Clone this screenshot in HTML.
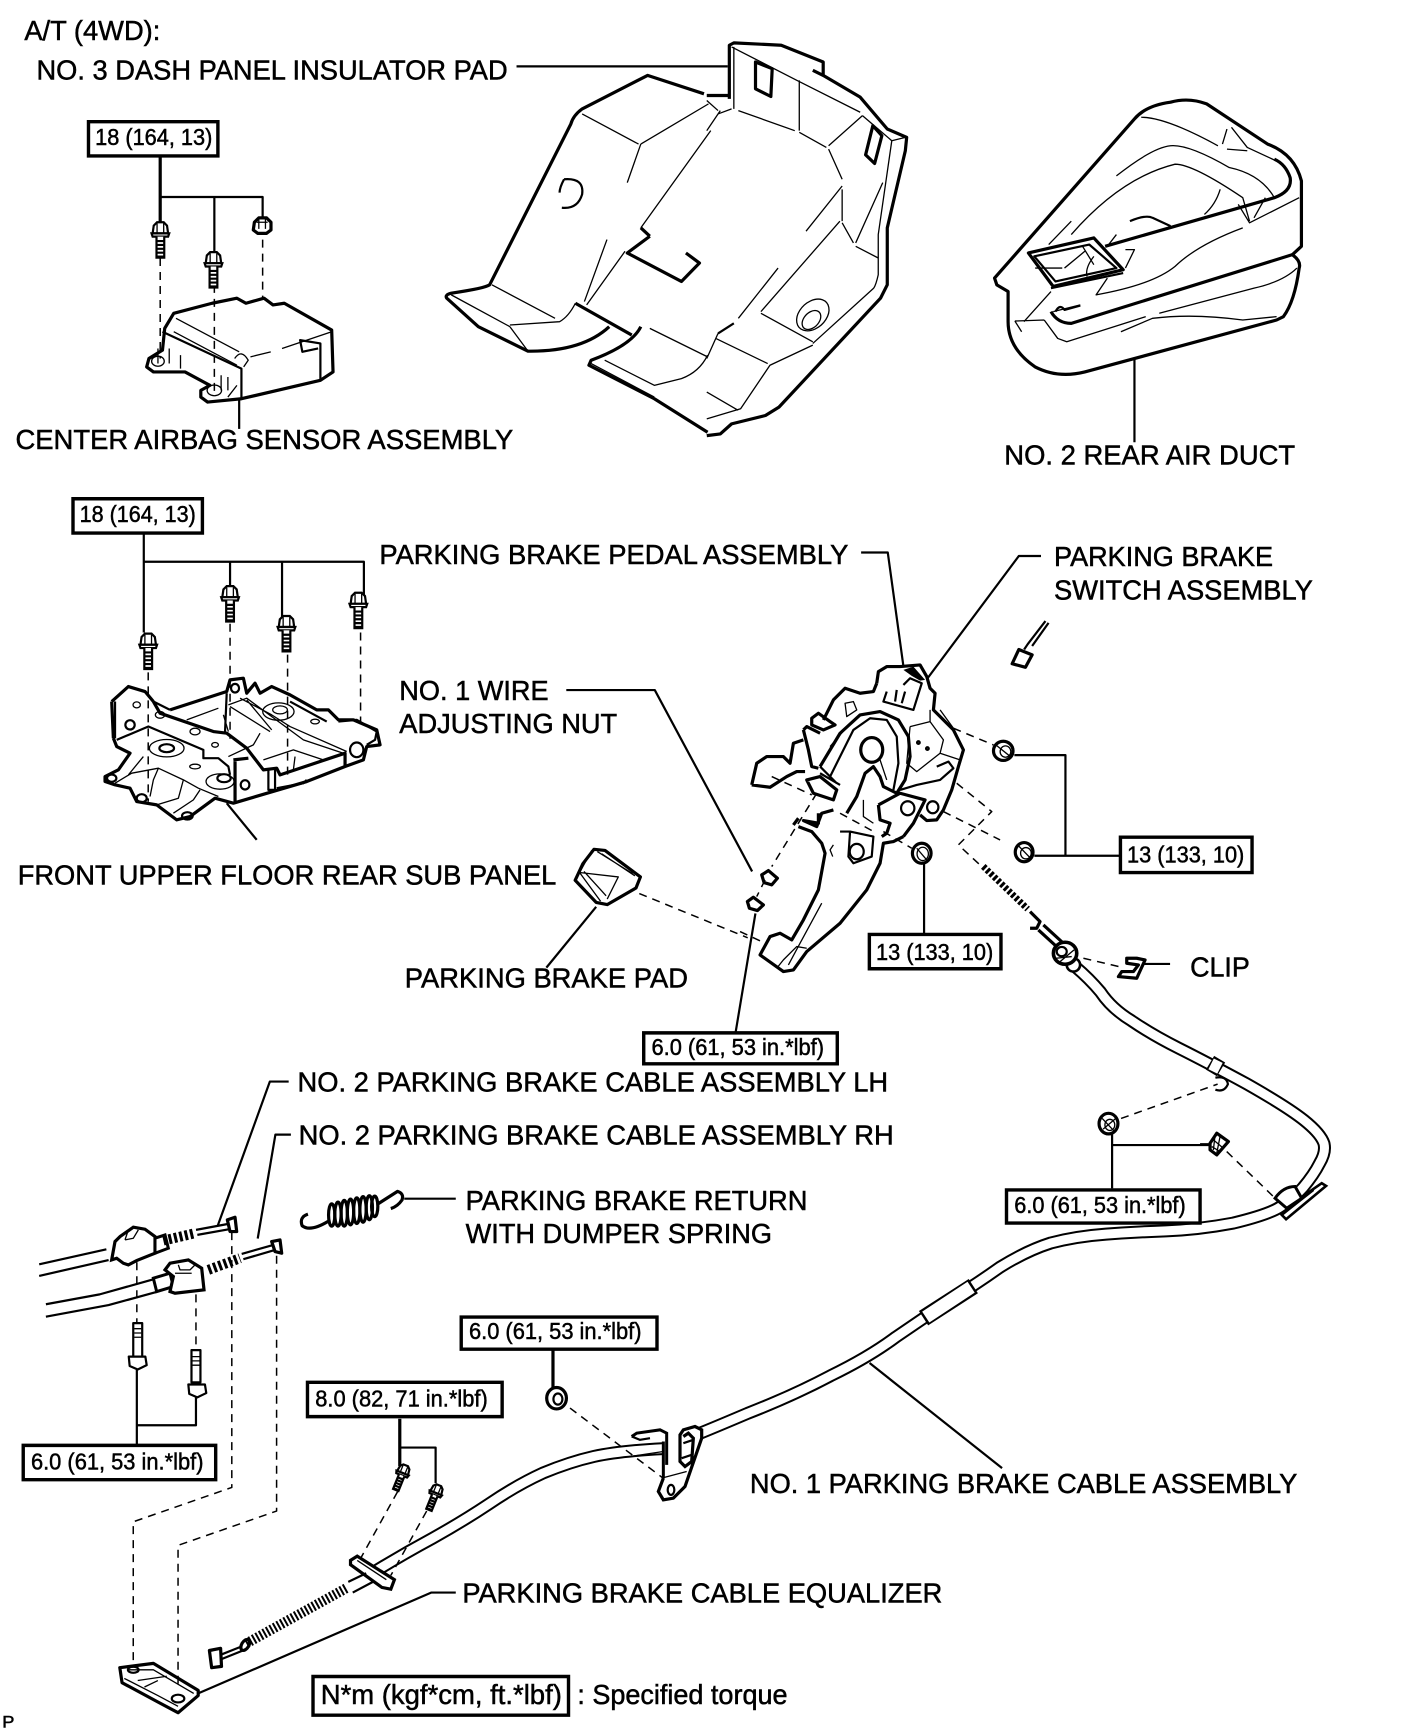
<!DOCTYPE html>
<html><head><meta charset="utf-8">
<style>
html,body{margin:0;padding:0;background:#fff}
svg{display:block}
*{vector-effect:non-scaling-stroke}
.k,.m,.t,.d,.h{fill:none;stroke:#000;stroke-linejoin:round;stroke-linecap:butt}
.k{stroke-width:3.2}.m{stroke-width:2.2}.t{stroke-width:1.3}
.d{stroke-width:1.5;stroke-dasharray:8 6}
text{font-family:"Liberation Sans",sans-serif;fill:#000;stroke:#000;stroke-width:.5}
.l{font-size:25px}.b{font-size:21px}
rect.r{fill:#fff;stroke:#000;stroke-width:3.4}
.w{fill:#fff}
</style></head><body>
<svg xmlns="http://www.w3.org/2000/svg" width="1408" height="1734" viewBox="0 0 1273 1568" preserveAspectRatio="none">
<rect width="1273" height="1568" fill="#fff"/>
<defs>
<g id="bolt"><path d="M-6,-7L-3,-10L3,-10L6,-7L7,0L-7,0Z" fill="#fff" stroke="#000" stroke-width="2.2"/><path d="M-8,0H8L7,3H-7Z" fill="#fff" stroke="#000" stroke-width="2.2"/><path class="t" d="M-3,-9V0M3,-9V0"/><path d="M-3.5,3V22H3.5V3" fill="#fff" stroke="#000" stroke-width="2.2"/><path class="m" d="M-3,7H3M-3,10.500H3M-3,14H3M-3,17.500H3M-3,21H3"/></g>
</defs>

<!-- leaders -->
<path class="m" d="M467,60H658"/>
<path class="m" d="M512,624H592L680,788"/>
<path class="m" d="M683,826L665,934"/>
<path class="m" d="M261,978H244L197,1108M263,1026H249L233,1120"/>

<!-- Z1 pad left + airbag sensor -->
<g transform="scale(.408,.303)">
<path class="k" d="M1560,280L1435,225L1290,325Q1270,345 1265,370L1085,850Q1075,860 1000,875Q985,880 990,890L1060,975L1170,1048Q1290,1050 1350,975"/>
<path class="k" d="M1275,905L1400,1000M1420,975Q1400,1030 1310,1075L1305,1090L1450,1190L1568,1290M1440,705L1390,755L1510,840L1550,785L1520,755M1420,680L1440,705"/>
<path class="t" d="M1290,340L1415,430M1420,430L1570,310M1420,430L1390,545M1575,390L1420,680M1345,715L1295,900M1385,750L1300,910M1090,850L1230,950M1130,970L1240,960Q1260,945 1275,905M1130,975L1170,1048M1000,880L1130,975M1440,980L1568,1065M1340,1075L1450,1150L1510,1130Q1550,1110 1568,1060M1310,1085L1450,1185"/>
<path class="m" d="M1250,535Q1295,530 1290,580Q1280,625 1245,620M1250,535Q1240,560 1240,575"/>
<!-- airbag sensor -->
<path class="k" d="M385,935L470,905L525,890L545,905L585,890L605,910L630,905L735,985L738,1110L710,1135L535,1190L460,1200L445,1185L445,1165L465,1150L410,1110L340,1110L325,1095L330,1070L360,1045L365,980Z"/>
<path class="m" d="M360,990L535,1100L535,1190M710,1135L710,1025L665,1015L670,1050L705,1040"/>
<path class="t" d="M390,950L530,1050M385,990L525,1090M555,1065L600,1050M625,1040L735,990M520,1070Q535,1040 550,1075L540,1095M350,1040V1085M375,1040V1085M400,1060V1100M490,1120V1165M505,1125V1165M525,1150L505,1185"/>
<ellipse class="t" cx="350" cy="1078" rx="14" ry="15"/><ellipse class="t" cx="475" cy="1165" rx="16" ry="16"/>
<path class="d" d="M355,770V1070M475,850V1170M582,715V890"/>
<path class="k" d="M355,468V670"/>
<path class="m" d="M355,588H582V650M475,588V750"/>
<path class="m" d="M530,1190V1280"/>
</g>
<use href="#bolt" x="145" y="211"/><use href="#bolt" x="193" y="238"/>
<g transform="translate(237,204)"><path class="k" d="M-7,-3L-3,-7L4,-7L8,-3L8,4L4,7H-4L-8,4Z"/><path class="t" d="M-5,-3H5M-3,-6L-3,3M3,-6L3,3"/></g>

<!-- Z2 pad right -->
<g transform="translate(639,0) scale(.408,.303)">
<path class="k" d="M50,295V135L60,128L165,135L258,185V225L235,210M258,225L340,290L400,385L443,410L440,450L400,680L400,850L385,890L160,1215L130,1240L55,1265L30,1295L0,1300M0,285H50"/>
<path class="k" d="M108,185L145,205L142,288L108,265ZM368,375L388,405L372,488L352,462Z"/>
<path class="t" d="M55,140L200,240L340,335M60,140V325M70,330L195,390M205,240V390M205,395L265,440M345,345L270,435M270,445L300,535M300,555L220,690M300,565V660M295,660L120,930M300,665L325,725M390,545L330,725M410,420L380,700V820Q375,850 370,860M345,345L410,420L440,410M330,735L380,770M158,800L70,950M370,860L235,1025M120,935L235,1020M235,1030L140,1090L75,1220L0,1250M20,1010L135,1085M0,1070L25,995M0,1170L70,1225M30,330L0,390M25,340L55,325M0,300L25,330"/>
<path class="m" d="M25,995L60,965"/>
<ellipse class="t" cx="235" cy="940" rx="32" ry="50" transform="rotate(25 235 940)"/>
<ellipse class="t" cx="232" cy="955" rx="18" ry="30" transform="rotate(25 232 955)"/>
</g>
<!-- duct -->
<g transform="translate(634,0) scale(.408,.303)">
<path class="k" d="M650,830L960,355Q985,315 1040,305Q1080,290 1120,310L1255,430Q1315,460 1330,540L1330,735L1310,760Q1330,780 1325,800Q1315,900 1290,945L1275,955L850,1110Q790,1130 740,1095Q680,1040 680,960L680,870L655,850Z"/>
<path class="k" d="M1310,760L820,965Q790,965 775,930M895,735L1270,590Q1310,570 1305,530Q1295,490 1270,475"/>
<path class="k" d="M725,755L870,710L935,805L780,855Z"/>
<path class="m" d="M738,765L860,730L920,800L785,840ZM950,660Q985,640 1000,650L1040,675M775,860L935,815"/>
<path class="t" d="M975,350Q1030,350 1145,435M1165,385L1155,430M1175,380L1210,440L1290,490M1165,445L1210,450M920,525Q1000,440 1040,435Q1080,430 1170,500Q1240,520 1270,590M820,700Q930,530 1050,490Q1090,490 1200,590L1215,660M1150,565Q1140,610 1115,640M1190,610L1215,665L1325,590M1250,590L1225,650M1200,680Q1100,730 1050,795Q1000,850 875,880L900,830M940,745L960,745L940,800M770,730L820,660M900,735L920,700M775,870L715,960M695,958L760,955M710,990L695,958M780,930L840,910M760,955L790,1010L810,1020L985,945M1320,800Q1290,840 1225,860L1015,935M930,990L1000,950Q1090,935 1200,955L1275,945M845,735L870,790M805,800L850,750M740,800L800,800M870,765Q850,800 855,825"/>
<path class="m" d="M785,930Q795,905 805,925L840,912M960,1070V1320"/>
</g>

<!-- Z8 subpanel -->
<g transform="translate(81.4,596.7) scale(.3014)">
<path class="k" d="M65,125L115,80L165,95L190,125M70,235L65,125M240,150L410,95L420,60L460,55L470,100L495,70L510,100L545,80L600,105L680,150L715,150L745,180L790,180L860,210L870,255L830,260L820,300L765,320M70,235L80,260L120,280L85,330L45,350L45,365L75,375L120,385L140,425L200,435L260,480L300,470L375,415L430,430L650,365L765,320"/>
<path class="k" d="M190,125L210,160L370,215L410,220L470,265L520,330L560,325L570,345L765,280V320M435,305V425M430,300L475,295"/>
<path class="m" d="M410,100L405,215M75,125V235M240,150L190,125M555,330V390L535,390V330M560,385L640,370L650,360M80,240L175,200L340,270V295L385,295L415,320L420,345M600,125L710,185M745,185L800,180L860,215L855,240L830,255"/>
<path class="t" d="M415,135L470,115L640,240L760,280M470,120L545,210M420,140L540,215M450,115L545,165L600,200L770,275M510,220L490,255L415,290M520,300L610,270L700,300M615,290L610,330M75,370L125,340L205,325L280,360L325,385L385,410M205,325L190,360L180,410M280,360L265,415L200,435M330,390L310,420L250,460M115,345L160,290M290,180L385,145M400,165L415,215"/>
<ellipse class="t" cx="230" cy="265" rx="52" ry="26"/><ellipse class="m" cx="230" cy="265" rx="22" ry="12"/>
<ellipse class="t" cx="390" cy="365" rx="42" ry="23"/><ellipse class="m" cx="402" cy="355" rx="20" ry="12"/>
<ellipse class="t" cx="565" cy="155" rx="47" ry="26"/><ellipse class="t" cx="570" cy="150" rx="22" ry="12"/>
<ellipse class="m" cx="800" cy="270" rx="20" ry="22"/><ellipse class="m" cx="465" cy="375" rx="13" ry="14"/>
<ellipse class="t" cx="315" cy="215" rx="15" ry="10"/><ellipse class="t" cx="210" cy="165" rx="14" ry="10"/><ellipse class="t" cx="140" cy="135" rx="11" ry="9"/><ellipse class="m" cx="120" cy="195" rx="14" ry="14"/><ellipse class="t" cx="375" cy="255" rx="10" ry="7"/><ellipse class="t" cx="315" cy="320" rx="16" ry="7"/><ellipse class="t" cx="675" cy="185" rx="13" ry="7"/><ellipse class="m" cx="435" cy="85" rx="12" ry="13"/><ellipse class="m" cx="65" cy="355" rx="14" ry="11"/><ellipse class="m" cx="155" cy="415" rx="15" ry="12"/><ellipse class="m" cx="292" cy="468" rx="16" ry="11"/>
<path class="m" d="M410,430L500,540"/>
</g>
<path class="d" d="M134,608V725M208,564V668M260,592V703M326,572V660"/>
<path class="m" d="M130,482V572M130,508H329V538M208,508V530M255,508V560"/>
<use href="#bolt" x="134" y="583"/><use href="#bolt" x="208" y="540"/><use href="#bolt" x="259" y="567"/><use href="#bolt" x="324" y="546"/>

<!-- brake pad -->
<path class="k" d="M537,768L547,769L579,793L575,803L549,818L539,816L520,796L527,781Z"/>
<path class="t" d="M535,769L524,789L543,815M524,789L559,793L549,813M540,770L572,790M544,772L574,792M528,788L548,810"/>
<path class="m" d="M539,820L494,875"/>
<path class="d" d="M578,808L676,848"/>

<!-- pedal Z7 -->
<g transform="translate(669.1,587.7) scale(.3014)">
<path class="k" d="M410,100L415,65L440,50L480,50L540,45L560,80L570,115L585,130L580,180L640,240L670,300L655,350L635,420L610,480L590,510L560,512L540,495M490,560L460,575L430,580L420,640L380,720L300,820L200,905L160,960L130,965L60,915L90,860L120,850L155,870L190,810L235,720L255,610L245,580L215,545L175,530"/>
<path class="k" d="M410,100L400,125L360,130L315,115L280,150L250,210M215,205L235,190L270,215L285,225L250,240L215,225ZM190,240L200,230L240,250M190,240L205,300L215,350L235,355M35,405L50,340L80,320L130,320L150,340L160,280L190,270M35,405L90,412L140,380L170,365L195,365M200,390L220,430L280,450L290,420L240,380Z"/>
<path class="k" d="M240,350L300,250L360,195L420,185L475,210L505,260L510,320L495,390L470,430L430,410L420,380L400,350L375,370L350,440L320,490M415,465L480,430L555,450L540,480L520,520L490,560M415,465L420,510L450,520L440,550L425,560M235,490L235,520L190,512L230,530L245,490L280,480M175,505L160,525"/>
<path class="m" d="M270,380L340,240L390,205L440,210L470,260L475,340L460,420M490,105L510,85L545,100L520,180L430,155L440,125M470,120L465,155M495,125L485,160M590,350L625,335L640,355L600,390L530,405L480,420M300,545L330,545L400,560L395,620L340,640L325,620L330,545M240,350L290,400M240,370L300,405"/>
<path d="M490,60L520,50L555,90L540,92L515,78Z" fill="#000" stroke="none"/>
<path class="t" d="M510,230L570,215L610,270L600,310L530,365L500,340L510,230M570,215V180M600,310L660,330M245,760L180,880L145,945M200,895L170,890L130,930L110,955M370,450L370,500L400,520M315,160L340,155L350,180L320,200ZM270,290L330,220M420,330L440,390M600,180L640,235M280,585L270,600L278,620"/>
<ellipse class="k" cx="395" cy="300" rx="33" ry="37"/>
<ellipse class="m" cx="503" cy="475" rx="20" ry="21"/><ellipse class="m" cx="578" cy="472" rx="17" ry="18"/><ellipse class="m" cx="350" cy="605" rx="21" ry="23"/>
<circle cx="535" cy="278" r="4" class="m"/><circle cx="562" cy="296" r="4" class="m"/>
<path class="d" d="M640,235L760,285M610,485L780,570M430,545L515,595M650,400L755,485L655,585L725,650M230,430L95,650M75,690L50,740M95,380L215,435M300,490L410,550M0,845L75,880"/>
<ellipse class="k" cx="545" cy="610" rx="28" ry="30"/><ellipse class="t" cx="548" cy="612" rx="17" ry="20"/><path class="t" d="M530,595L560,630"/>
<path class="k" d="M65,675L85,662L112,685L95,705L72,698ZM22,755L40,742L70,765L52,782L28,775Z"/>
<path class="m" d="M552,640V850"/>
</g>

<!-- Z4 right side items -->
<g transform="translate(640,470) scale(.4016,.3215)">
<path class="m" d="M345,92H405L440,410M750,102H700L495,445"/>
<path class="m" d="M760,285L720,350L712,365M767,290L730,355"/>
<path class="k" d="M700,365L730,380L715,415L685,405Z"/>
<ellipse class="k" cx="665" cy="650" rx="22" ry="27"/><ellipse class="t" cx="670" cy="652" rx="12" ry="16"/><path class="t" d="M650,635L680,665"/>
<ellipse class="k" cx="712" cy="935" rx="20" ry="27"/><ellipse class="t" cx="716" cy="938" rx="12" ry="16"/><path class="t" d="M700,918L725,950"/>
<path class="m" d="M690,662H805V945M735,945H928"/>
<path fill="none" stroke="#000" stroke-width="6.500" stroke-dasharray="3 2" d="M620,975L720,1095"/>
</g>

<!-- main cable -->
<path fill="none" stroke="#000" stroke-width="13" d="M972,874Q985,885 995,897Q1005,912 1023,923Q1042,936 1066,948Q1090,960 1127,980Q1164,1001 1179,1013Q1194,1025 1197,1034Q1199,1042 1193,1052Q1188,1062 1178,1074Q1168,1085 1158,1091Q1148,1098 1115,1106Q1083,1112 1054,1113Q1026,1114 1000,1116Q973,1118 950,1124Q928,1131 904,1146Q880,1163 857,1177Q835,1192 810,1209Q786,1227 751,1244Q717,1262 676,1278Q636,1295 618,1302"/>
<path fill="none" stroke="#fff" stroke-width="9" d="M972,874Q985,885 995,897Q1005,912 1023,923Q1042,936 1066,948Q1090,960 1127,980Q1164,1001 1179,1013Q1194,1025 1197,1034Q1199,1042 1193,1052Q1188,1062 1178,1074Q1168,1085 1158,1091Q1148,1098 1115,1106Q1083,1112 1054,1113Q1026,1114 1000,1116Q973,1118 950,1124Q928,1131 904,1146Q880,1163 857,1177Q835,1192 810,1209Q786,1227 751,1244Q717,1262 676,1278Q636,1295 618,1302"/>
<path fill="none" stroke="#000" stroke-width="17" d="M835,1192L880,1163"/><path fill="none" stroke="#fff" stroke-width="13" d="M837,1191L878,1164"/>
<path fill="none" stroke="#000" stroke-width="16" d="M1094,961L1104,967"/><path fill="none" stroke="#fff" stroke-width="12" d="M1095,962L1103,966"/>
<path fill="none" stroke="#000" stroke-width="13" d="M599,1310Q560,1312 537,1317Q515,1322 491,1332Q467,1343 442,1360Q418,1376 391,1391Q365,1405 339,1421"/>
<path fill="none" stroke="#fff" stroke-width="9" d="M599,1310Q560,1312 537,1317Q515,1322 491,1332Q467,1343 442,1360Q418,1376 391,1391Q365,1405 339,1421"/>

<!-- grommet + clip -->
<g transform="translate(931.3,777.6) scale(.3014)">
<path class="k" d="M0,155L30,185L20,205L0,205M40,195L100,250M25,210L85,265"/>
<ellipse cx="130" cy="315" rx="20" ry="20" fill="#fff" stroke="#000" stroke-width="2.6"/>
<ellipse cx="105" cy="280" rx="35" ry="33" fill="#fff" stroke="#000" stroke-width="3.600"/>
<ellipse class="m" cx="95" cy="275" rx="15" ry="14"/><path class="t" d="M78,295L125,290M90,305L132,270"/>
<path class="d" d="M160,295L275,322"/>
<path class="k" d="M290,295L320,295L345,300L320,355L265,350L275,335L310,335L325,315L290,310Z"/>
<path class="m" d="M340,312H420"/>
</g>

<!-- right end of cable -->
<g transform="translate(1085,994.6) scale(.3014)">
<path fill="#fff" stroke="#000" stroke-width="3" d="M225,295Q250,260 285,260L305,295L260,325Z"/>
<path fill="#fff" stroke="#000" stroke-width="2.600" d="M300,295L365,250L378,258L258,358L245,345L270,325L340,270Z"/>
<path class="d" d="M80,155L220,290"/>
<path class="k" d="M30,130L50,100L85,125L50,165L30,150Z"/>
<path class="t" d="M40,120L70,145M35,140L60,155M45,105L40,150M60,110L50,160"/>
<path class="m" d="M0,133H30"/>
</g>

<!-- bracket -->
<g transform="translate(569.6,1279.4) scale(.3014)">
<path d="M100,190L85,230L100,255L130,250L165,215L215,70V45L195,35L160,45L150,60V140L165,155L185,140L190,70L175,55L160,65" fill="#fff" stroke="#000" stroke-width="3.200"/>
<path d="M5,65L20,55L90,45L110,55V150M100,80V190" fill="none" stroke="#000" stroke-width="3"/>
<path class="m" d="M5,65L30,75L60,70"/>
<path class="t" d="M95,190L170,170M0,125L100,110"/>
<path class="m" d="M160,85L190,75M155,130L185,120"/>
<ellipse class="m" cx="123" cy="225" rx="10" ry="15"/>
</g>

<!-- Z5 -->
<g transform="translate(1,959) scale(.405,.388)">
<path class="m" d="M85,475L235,440M85,502L240,465M100,568L220,545L340,510M100,597L240,570L345,540"/>
<path class="d" d="M303,470V610M435,545V670M515,400V995L295,1075V1410M615,455V1050L395,1130V1465"/>
<path class="m" d="M295,612H315V690H295ZM285,690L322,690L325,710L305,720L287,712ZM425,675H445V750H425ZM418,755L455,755L458,775L438,785L420,777ZM303,720V900M303,850H435V785"/>
<path class="t" d="M297,625H313M297,635H313M297,645H313M427,690H443M427,700H443M427,710H443"/>
<!-- spring -->
<path class="k" d="M730,375Q690,400 672,385Q665,365 685,358M840,335L885,305Q900,310 895,325Q885,340 870,345"/>
<ellipse class="k" cx="738" cy="360" rx="7" ry="26"/><ellipse class="k" cx="752" cy="358" rx="7" ry="28"/><ellipse class="k" cx="766" cy="356" rx="7" ry="30"/><ellipse class="k" cx="780" cy="353" rx="7" ry="30"/><ellipse class="k" cx="794" cy="350" rx="7" ry="30"/><ellipse class="k" cx="808" cy="347" rx="7" ry="30"/><ellipse class="k" cx="822" cy="343" rx="7" ry="28"/><ellipse class="k" cx="834" cy="340" rx="7" ry="24"/>
<path class="m" d="M900,322H1015"/>
<!-- 8.0 -->
<path class="k" d="M890,835V945"/>
<path class="m" d="M890,902H970V985"/>
<path class="d" d="M885,1005L800,1165M950,1050L870,1200"/>
<path class="k" d="M1232,675V765"/>
<ellipse class="k" cx="1240" cy="787" rx="22" ry="25"/><ellipse class="m" cx="1243" cy="789" rx="10" ry="13"/>
<path class="d" d="M1270,810L1480,975"/>
<!-- equalizer -->
<path stroke="#000" stroke-width="3.200" fill="#fff" d="M780,1165L795,1155L878,1210L870,1232L850,1228L780,1175Z"/>
<path class="t" d="M795,1165L860,1210"/>
<path fill="none" stroke="#000" stroke-width="10" stroke-dasharray="2 2" d="M770,1230L545,1360"/>
<path class="m" d="M775,1215L815,1195M785,1240L830,1215"/>
<ellipse class="k" cx="545" cy="1362" rx="8" ry="14" transform="rotate(30 545 1362)"/>
<path class="m" d="M538,1365L490,1385M540,1375L492,1395"/>
<path class="k" d="M465,1375L490,1370L492,1412L470,1415Z"/>
<!-- bottom bracket -->
<path class="k" d="M265,1415L340,1405L440,1468V1480L395,1520L350,1495L270,1450Z"/>
<path class="t" d="M285,1420L340,1420L430,1475M275,1440L350,1480L395,1505M305,1445L370,1435M320,1460L350,1445"/>
<ellipse class="m" cx="295" cy="1420" rx="12" ry="7"/><ellipse class="m" cx="395" cy="1487" rx="14" ry="9"/>
<path class="m" d="M440,1475L960,1240H1015"/>
</g>
<use href="#bolt" transform="translate(364,1332) rotate(22) scale(.75)"/>
<use href="#bolt" transform="translate(394,1350) rotate(22) scale(.75)"/>

<!-- Z9 upper cable ends -->
<g transform="translate(108.5,1057.9) scale(.3014)">
<path d="M0,200L40,172L75,178L105,200V250L50,272L25,285L10,280L-10,265L-25,270L-15,215Z" fill="#fff" stroke="#000" stroke-width="3.200"/>
<path class="t" d="M15,210L25,180M15,210L40,205L55,180"/>
<path fill="#fff" stroke="#000" stroke-width="3" d="M105,205L135,195L145,235L105,250Z"/>
<path fill="none" stroke="#000" stroke-width="10" stroke-dasharray="3 2.500" d="M130,212L225,190"/>
<path class="m" d="M228,180L325,162M232,195L328,178"/>
<path class="k" d="M322,150L345,142L350,185L330,185Z"/>
<path d="M100,325L150,310L160,350L110,365Z" fill="#fff" stroke="#000" stroke-width="3"/>
<path d="M135,300L150,280L205,270L245,295L252,360L165,370L150,365L160,320Z" fill="#fff" stroke="#000" stroke-width="3.200"/>
<path class="t" d="M175,285L180,300L210,300L225,285M165,310H215"/>
<path fill="none" stroke="#000" stroke-width="10" stroke-dasharray="3 2.500" d="M265,300L360,265"/>
<path class="m" d="M365,252L460,225M370,268L465,240"/>
<path class="k" d="M455,215L480,210L485,250L465,245Z"/>
</g>

<!-- Z6 -->
<g transform="translate(636,959) scale(.406,.388)">
<path class="m" d="M370,705L665,950"/>
<ellipse class="k" cx="902" cy="147" rx="21" ry="24"/><ellipse class="t" cx="905" cy="150" rx="11" ry="13"/>
<path class="t" d="M888,135L915,165M890,160L918,135"/>
<path class="d" d="M930,135L1145,55"/>
<path class="m" d="M910,170V298M912,197H1130"/>
<path class="m" d="M1140,40Q1165,35 1168,55Q1160,75 1140,68"/>
</g>

<!-- rects -->
<rect class="r" x="80" y="110" width="117" height="31"/>
<rect class="r" x="66" y="451" width="117" height="31"/>
<rect class="r" x="1013" y="757" width="119" height="32"/>
<rect class="r" x="786" y="845" width="119" height="31"/>
<rect class="r" x="582" y="934" width="175" height="28"/>
<rect class="r" x="910" y="1076" width="175" height="30"/>
<rect class="r" x="417" y="1191" width="177" height="29"/>
<rect class="r" x="278" y="1250" width="176" height="31"/>
<rect class="r" x="21" y="1307" width="174" height="31"/>
<rect class="r" x="283" y="1516" width="231" height="35"/>

<!-- text -->
<text class="l" x="22" y="36" textLength="123" lengthAdjust="spacingAndGlyphs">A/T (4WD):</text>
<text class="l" x="33" y="72" textLength="426" lengthAdjust="spacingAndGlyphs">NO. 3 DASH PANEL INSULATOR PAD</text>
<text class="l" x="14" y="406" textLength="450" lengthAdjust="spacingAndGlyphs">CENTER AIRBAG SENSOR ASSEMBLY</text>
<text class="l" x="908" y="420" textLength="263" lengthAdjust="spacingAndGlyphs">NO. 2 REAR AIR DUCT</text>
<text class="l" x="343" y="510" textLength="424" lengthAdjust="spacingAndGlyphs">PARKING BRAKE PEDAL ASSEMBLY</text>
<text class="l" x="953" y="512" textLength="198" lengthAdjust="spacingAndGlyphs">PARKING BRAKE</text>
<text class="l" x="953" y="542" textLength="234" lengthAdjust="spacingAndGlyphs">SWITCH ASSEMBLY</text>
<text class="l" x="361" y="633" textLength="135" lengthAdjust="spacingAndGlyphs">NO. 1 WIRE</text>
<text class="l" x="361" y="663" textLength="197" lengthAdjust="spacingAndGlyphs">ADJUSTING NUT</text>
<text class="l" x="16" y="800" textLength="487" lengthAdjust="spacingAndGlyphs">FRONT UPPER FLOOR REAR SUB PANEL</text>
<text class="l" x="366" y="893" textLength="256" lengthAdjust="spacingAndGlyphs">PARKING BRAKE PAD</text>
<text class="l" x="1076" y="883" textLength="54" lengthAdjust="spacingAndGlyphs">CLIP</text>
<text class="l" x="269" y="987" textLength="534" lengthAdjust="spacingAndGlyphs">NO. 2 PARKING BRAKE CABLE ASSEMBLY LH</text>
<text class="l" x="270" y="1035" textLength="538" lengthAdjust="spacingAndGlyphs">NO. 2 PARKING BRAKE CABLE ASSEMBLY RH</text>
<text class="l" x="421" y="1094" textLength="309" lengthAdjust="spacingAndGlyphs">PARKING BRAKE RETURN</text>
<text class="l" x="421" y="1124" textLength="277" lengthAdjust="spacingAndGlyphs">WITH DUMPER SPRING</text>
<text class="l" x="678" y="1350" textLength="495" lengthAdjust="spacingAndGlyphs">NO. 1 PARKING BRAKE CABLE ASSEMBLY</text>
<text class="l" x="418" y="1449" textLength="434" lengthAdjust="spacingAndGlyphs">PARKING BRAKE CABLE EQUALIZER</text>
<text class="b" x="86" y="131" textLength="106" lengthAdjust="spacingAndGlyphs">18 (164, 13)</text>
<text class="b" x="72" y="472" textLength="105" lengthAdjust="spacingAndGlyphs">18 (164, 13)</text>
<text class="b" x="1019" y="780" textLength="106" lengthAdjust="spacingAndGlyphs">13 (133, 10)</text>
<text class="b" x="792" y="868" textLength="106" lengthAdjust="spacingAndGlyphs">13 (133, 10)</text>
<text class="b" x="589" y="954" textLength="156" lengthAdjust="spacingAndGlyphs">6.0 (61, 53 in.*lbf)</text>
<text class="b" x="917" y="1097" textLength="155" lengthAdjust="spacingAndGlyphs">6.0 (61, 53 in.*lbf)</text>
<text class="b" x="424" y="1211" textLength="156" lengthAdjust="spacingAndGlyphs">6.0 (61, 53 in.*lbf)</text>
<text class="b" x="285" y="1272" textLength="156" lengthAdjust="spacingAndGlyphs">8.0 (82, 71 in.*lbf)</text>
<text class="b" x="28" y="1329" textLength="156" lengthAdjust="spacingAndGlyphs">6.0 (61, 53 in.*lbf)</text>
<text class="l" x="290" y="1541" textLength="218" lengthAdjust="spacingAndGlyphs">N*m (kgf*cm, ft.*lbf)</text>
<text class="l" x="522" y="1541" textLength="190" lengthAdjust="spacingAndGlyphs">: Specified torque</text>
<text x="2" y="1562" font-size="15" textLength="11" lengthAdjust="spacingAndGlyphs">P</text>
</svg>
</body></html>
